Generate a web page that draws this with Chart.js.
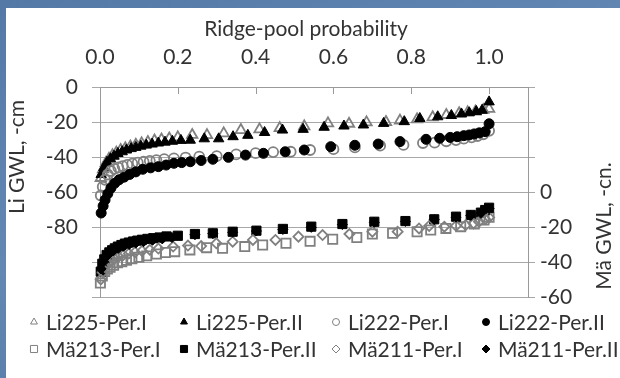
<!DOCTYPE html>
<html>
<head>
<meta charset="utf-8">
<title>Ridge-pool probability</title>
<script src="https://cdn.jsdelivr.net/npm/chart.js@4.4.0/dist/chart.umd.min.js"></script>
<style>
  html, body { margin: 0; padding: 0; }
  body {
    width: 620px; height: 378px; overflow: hidden; position: relative;
    background: linear-gradient(160deg, #5479a7 0%, #6488b4 45%, #4d709d 100%);
  }
  #panel { position: absolute; left: 6px; top: 8px; width: 614px; height: 370px; background: #fff; }
</style>
</head>
<body>
<div id="panel"><canvas id="grafica" width="614" height="370"></canvas></div>
<script>
const seriesNames = ['Li225-Per.I', 'Li225-Per.II', 'Li222-Per.I', 'Li222-Per.II',
                     'Mä213-Per.I', 'Mä213-Per.II', 'Mä211-Per.I', 'Mä211-Per.II'];
const probTicks = [0, 0.2, 0.4, 0.6, 0.8, 1.0];
const xTitle = 'Ridge-pool probability';
const leftTitle = 'Li GWL, -cm';
const rightTitle = 'Mä GWL, -cn.';

// Li225 (left axis)
const li225I_p = [0.002, 0.008, 0.015, 0.023, 0.032, 0.042, 0.053, 0.065, 0.078, 0.092, 0.107, 0.123, 0.140, 0.158, 0.178, 0.200, 0.237, 0.275, 0.318, 0.362, 0.410, 0.462, 0.525, 0.586, 0.640, 0.685, 0.735, 0.771, 0.815, 0.855, 0.890, 0.923, 0.945, 0.965, 0.985, 1.0];
const li225I_gwl = [-52, -47, -43.5, -41, -39, -37.5, -36, -35, -34, -33, -32.2, -31.4, -30.6, -30, -29.4, -28.8, -27.4, -27.5, -26.5, -24.6, -24.2, -23.5, -22.5, -20.8, -21, -20.2, -20, -19.2, -18.5, -17.3, -16, -15, -14.5, -14, -13.1, -12.5];
const li225II_p = [0.003, 0.010, 0.018, 0.027, 0.036, 0.046, 0.057, 0.068, 0.080, 0.092, 0.105, 0.119, 0.134, 0.150, 0.167, 0.186, 0.208, 0.232, 0.268, 0.305, 0.342, 0.380, 0.423, 0.469, 0.522, 0.576, 0.627, 0.677, 0.729, 0.782, 0.822, 0.868, 0.903, 0.929, 0.949, 0.967, 0.982, 1.0];
const li225II_gwl = [-50, -46, -43, -41, -39.5, -38, -37, -36, -35.2, -34.5, -33.8, -33.2, -32.6, -32, -31.5, -31, -30.5, -30.4, -29.6, -29.6, -28.4, -27.6, -26, -24.6, -24.2, -23, -22.3, -21.7, -20.8, -19.8, -18, -17, -16.3, -15.4, -14.7, -14, -13.3, -8.5];

// Li222 (left axis)
const li222I_p = [0.002, 0.007, 0.013, 0.020, 0.028, 0.037, 0.047, 0.058, 0.070, 0.083, 0.097, 0.112, 0.128, 0.145, 0.165, 0.190, 0.220, 0.255, 0.300, 0.350, 0.400, 0.445, 0.490, 0.540, 0.600, 0.655, 0.720, 0.780, 0.830, 0.860, 0.890, 0.915, 0.935, 0.955, 0.970, 0.985, 1.0];
const li222I_gwl = [-62, -57, -53, -50, -48, -46.8, -46, -45.2, -44.5, -43.8, -43.2, -42.7, -42.2, -41.8, -41.2, -40.8, -40.3, -39.8, -39.5, -38.5, -37.8, -37.2, -37, -36, -35.5, -34.5, -33.5, -33.1, -32, -31.8, -31, -30.3, -29.5, -28.8, -28, -27, -25];
const li222II_p = [0.003, 0.008, 0.013, 0.020, 0.028, 0.038, 0.049, 0.062, 0.076, 0.092, 0.110, 0.130, 0.150, 0.170, 0.190, 0.210, 0.232, 0.260, 0.290, 0.330, 0.374, 0.420, 0.476, 0.525, 0.593, 0.655, 0.715, 0.771, 0.838, 0.873, 0.900, 0.918, 0.935, 0.949, 0.962, 0.975, 0.990, 1.0];
const li222II_gwl = [-72, -68, -64.5, -61, -57.8, -55, -53, -51.5, -50, -48.5, -47, -46.2, -45.5, -44.6, -43.6, -43.2, -42.7, -42, -41.3, -40.2, -38.9, -37.9, -37, -36, -34.1, -33.3, -32.6, -31.2, -29.9, -29.3, -28.8, -28.4, -27.8, -27.4, -26.8, -26.2, -25.5, -21];

// Mä213 (right axis)
const mae213I_p = [0.001, 0.006, 0.012, 0.019, 0.026, 0.035, 0.045, 0.056, 0.068, 0.082, 0.100, 0.120, 0.145, 0.168, 0.192, 0.231, 0.274, 0.315, 0.372, 0.418, 0.478, 0.540, 0.598, 0.660, 0.700, 0.752, 0.815, 0.850, 0.889, 0.927, 0.962, 0.987, 1.0];
const mae213I_gwl = [-52, -48, -45.5, -44, -43, -41.8, -40.5, -39.8, -39, -38.2, -37.3, -36.5, -35.4, -34.6, -34.1, -33.1, -31.8, -32.2, -31.2, -30.3, -29.3, -28.2, -27, -26, -24, -23.6, -22.7, -21.7, -20.8, -19.8, -18.3, -16, -14.5];
const mae213II_p = [0.002, 0.006, 0.011, 0.017, 0.024, 0.031, 0.038, 0.046, 0.055, 0.064, 0.074, 0.085, 0.096, 0.108, 0.122, 0.137, 0.153, 0.171, 0.200, 0.244, 0.290, 0.341, 0.402, 0.470, 0.543, 0.623, 0.705, 0.785, 0.859, 0.915, 0.953, 0.979, 0.990, 1.0];
const mae213II_gwl = [-45.5, -41, -38.5, -36, -34.5, -33.3, -32.2, -31.2, -30.3, -29.5, -28.9, -28.3, -27.8, -27.3, -26.8, -26.4, -26, -25.4, -25, -24, -23.6, -22.7, -22.1, -21.1, -19.8, -18.3, -17, -16.6, -15.6, -14.1, -13.1, -11.8, -10.3, -9];

// Mä211 (right axis)
const mae211I_p = [0.002, 0.007, 0.013, 0.020, 0.028, 0.037, 0.048, 0.060, 0.074, 0.090, 0.108, 0.128, 0.150, 0.188, 0.226, 0.260, 0.299, 0.341, 0.393, 0.451, 0.510, 0.572, 0.641, 0.700, 0.765, 0.820, 0.846, 0.885, 0.915, 0.940, 0.960, 0.974, 0.990, 1.0];
const mae211I_gwl = [-50, -46, -43, -41, -39.5, -38.2, -37, -36, -35.2, -34.4, -33.7, -33, -32.3, -31.2, -30.6, -30.9, -29.3, -28.4, -27.4, -27.4, -25.5, -24.6, -24, -22.7, -22.7, -20.8, -19.4, -19.8, -19.3, -18.9, -18, -17, -15.6, -14.5];
const mae211II_p = [0.003, 0.009, 0.016, 0.025, 0.035, 0.047, 0.060, 0.075, 0.092, 0.112, 0.135, 0.160, 0.185, 0.244, 0.290, 0.341, 0.402, 0.470, 0.543, 0.623, 0.705, 0.785, 0.859, 0.915, 0.953, 0.979, 1.0];
const mae211II_gwl = [-44, -40, -37, -35, -33.5, -32.2, -31, -30, -29.2, -28.4, -27.6, -26.8, -26, -24.4, -23.8, -23, -22.3, -21.4, -20.2, -18.6, -17.3, -16.8, -15.8, -14.4, -13.4, -12.2, -9.5];

const seriesP = [li225I_p, li225II_p, li222I_p, li222II_p, mae213I_p, mae213II_p, mae211I_p, mae211II_p];
const seriesGwl = [li225I_gwl, li225II_gwl, li222I_gwl, li222II_gwl, mae213I_gwl, mae213II_gwl, mae211I_gwl, mae211II_gwl];

// marcadores: Per.I abiertos en gris, Per.II rellenos en negro
const marcas = ['triangle', 'triangle', 'circle', 'circle', 'rect', 'rect', 'rectRot', 'rectRot'];
const radios = [6, 6, 5, 5, 6.5, 6.5, 5, 5];
const radiosLeyenda = [4, 4, 3.5, 3.5, 5, 5, 4, 4];
const gris = '#808080';
const textColor = '#333333';
const gridColor = '#a8a8a8';
const axisColor = '#9a9a9a';
const fuente = 'Lato, "Noto Sans", sans-serif';
const tam = 21;

// columnas y filas de la leyenda
const legendX = [28, 178, 330, 480];
const legendY = [314, 341];

function pares(xs, ys) {
    return xs.map(function (x, i) { return { x: x, y: ys[i] }; });
}

const datasets = seriesNames.map(function (nombre, i) {
    const abierto = i % 2 === 0;
    return {
        label: nombre,
        data: pares(seriesP[i], seriesGwl[i]),
        yAxisID: i < 4 ? 'y' : 'y2',
        showLine: false,
        clip: false,
        order: seriesNames.length - i,
        pointStyle: marcas[i],
        pointRadius: radios[i],
        pointBorderWidth: abierto ? 1.8 : 1,
        pointBackgroundColor: abierto ? 'rgba(0,0,0,0)' : '#000',
        pointBorderColor: abierto ? gris : '#000'
    };
});

// titulos de ejes, marcas interiores del eje superior y leyenda en rejilla
const decorado = {
    id: 'decorado',
    afterDraw(chart) {
        const ctx = chart.ctx;
        const area = chart.chartArea;
        const sx = chart.scales.x;
        ctx.save();

        ctx.strokeStyle = axisColor;
        ctx.lineWidth = 1;
        probTicks.forEach(function (v) {
            const px = Math.round(sx.getPixelForValue(v)) + 0.5;
            ctx.beginPath();
            ctx.moveTo(px, area.top);
            ctx.lineTo(px, area.top + 7);
            ctx.stroke();
        });

        ctx.fillStyle = textColor;
        ctx.font = tam + 'px ' + fuente;
        ctx.textAlign = 'center';
        ctx.textBaseline = 'alphabetic';
        ctx.fillText(xTitle, 300, 28);

        [[leftTitle, 18, 149], [rightTitle, 605, 218]].forEach(function (t) {
            ctx.save();
            ctx.translate(t[1], t[2]);
            ctx.rotate(-Math.PI / 2);
            ctx.fillText(t[0], 0, 0);
            ctx.restore();
        });

        seriesNames.forEach(function (nombre, i) {
            const mx = legendX[i % 4];
            const my = legendY[Math.floor(i / 4)];
            const abierto = i % 2 === 0;
            ctx.fillStyle = abierto ? 'rgba(0,0,0,0)' : '#000';
            ctx.strokeStyle = abierto ? gris : '#000';
            ctx.lineWidth = 1;
            Chart.helpers.drawPoint(ctx, { pointStyle: marcas[i], radius: radiosLeyenda[i], rotation: 0, borderWidth: 1 }, mx, my);
            ctx.fillStyle = textColor;
            ctx.textAlign = 'left';
            ctx.textBaseline = 'middle';
            ctx.fillText(nombre, mx + 12, my + 1);
        });
        ctx.restore();
    }
};

const tickFont = { family: fuente, size: tam };

new Chart(document.querySelector('#grafica'), {
    type: 'scatter',
    data: { datasets: datasets },
    options: {
        responsive: false,
        animation: false,
        layout: { padding: { left: 0, right: 0, top: 0, bottom: 81 } },
        plugins: { legend: { display: false }, tooltip: { enabled: false } },
        scales: {
            x: {
                type: 'linear', position: 'top', min: 0, max: 1.1,
                ticks: {
                    stepSize: 0.2, padding: 17, color: textColor, font: tickFont,
                    autoSkip: false, includeBounds: false,
                    callback: function (v) { return v > 1.05 ? '' : v.toFixed(1); }
                },
                grid: { drawOnChartArea: false, drawTicks: false },
                border: { color: axisColor },
                afterFit: function (s) { s.height = 79; }
            },
            y: {
                type: 'linear', position: 'left', min: -120, max: 0,
                ticks: {
                    stepSize: 20, padding: 14, color: textColor, font: tickFont,
                    callback: function (v) { return v >= -80 ? v : ''; }
                },
                grid: { color: gridColor, tickLength: 8 },
                border: { color: axisColor },
                afterFit: function (s) { s.width = 94; }
            },
            y2: {
                type: 'linear', position: 'right', min: -60, max: 60,
                ticks: {
                    stepSize: 20, padding: 5, color: textColor, font: tickFont,
                    callback: function (v) { return v <= 0 ? v : ''; }
                },
                grid: { drawOnChartArea: false, color: gridColor, tickLength: 7 },
                border: { color: axisColor },
                afterFit: function (s) { s.width = 92; }
            }
        }
    },
    plugins: [decorado]
});
</script>
</body>
</html>
